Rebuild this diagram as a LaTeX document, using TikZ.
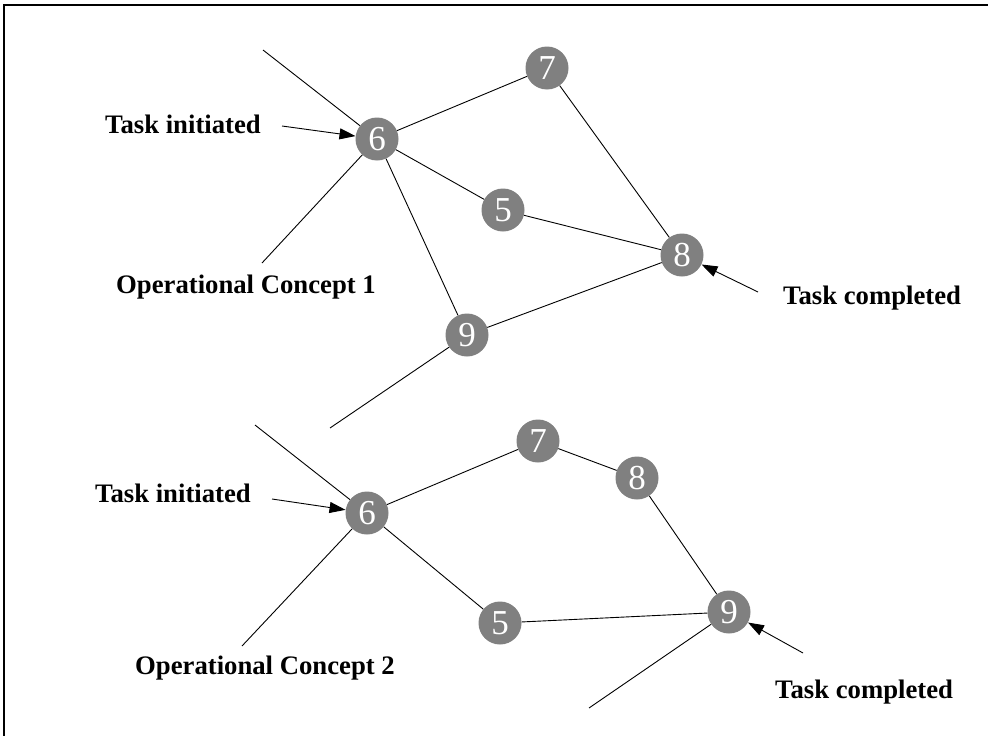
\documentclass[tikz,border=0pt]{standalone}
\usepackage{fontspec}
\setmainfont{Liberation Serif}
\usetikzlibrary{arrows.meta}
\tikzset{
  vtx/.style={circle, fill={rgb,255:red,128;green,128;blue,128}, minimum size=43pt, inner sep=0pt,
    text=white, font=\fontsize{35}{35}\selectfont},
  lbl/.style={anchor=base west, inner sep=0pt, font=\fontsize{26.7}{30}\selectfont\bfseries},
  ln/.style={line width=0.9pt, black},
  arr/.style={ln, -{Triangle[length=16pt, width=11pt]}},
}
\begin{document}
\begin{tikzpicture}[x=1pt, y=-1pt]
\useasboundingbox (0,0) rectangle (988,736);
\fill[white] (0,0) rectangle (988,736);
\begin{scope}
\clip (0,0) rectangle (988,736);
\draw[line width=1.6pt] (4,5) rectangle (1000,760);
\end{scope}

% ---- Operational Concept 1 ----
\node[vtx] (t6) at (377,139) {6};
\node[vtx] (t7) at (547,68) {7};
\node[vtx] (t5) at (503,210) {5};
\node[vtx] (t8) at (682,255) {8};
\node[vtx] (t9) at (467,335) {9};
\coordinate (ta1) at (263,50);
\coordinate (ta2) at (262,263);
\coordinate (ta3) at (330,428);
\coordinate (ti1) at (282,126);
\coordinate (tc1) at (758,292);

\node[lbl] (lti1) at (105,133) {Task initiated};
\node[lbl] (loc1) at (116,293) {Operational Concept 1};
\node[lbl] (ltc1) at (783,304) {Task completed};

\draw[ln] (ta1) -- (t6);
\draw[ln] (ta2) -- (t6);
\draw[ln] (t6) -- (t7);
\draw[ln] (t6) -- (t5);
\draw[ln] (t6) -- (t9);
\draw[ln] (t7) -- (t8);
\draw[ln] (t5) -- (t8);
\draw[ln] (t9) -- (t8);
\draw[ln] (t9) -- (ta3);
\draw[arr] (ti1) -- (t6);
\draw[arr] (tc1) -- (t8);

% ---- Operational Concept 2 ----
\node[vtx] (b6) at (367,513) {6};
\node[vtx] (b7) at (538,441) {7};
\node[vtx] (b8) at (637,478) {8};
\node[vtx] (b5) at (500,623) {5};
\node[vtx] (b9) at (729,612) {9};
\coordinate (ba1) at (255,425);
\coordinate (ba2) at (242,646);
\coordinate (ba3) at (589,708);
\coordinate (bi1) at (272,499);
\coordinate (bc1) at (803,653);

\node[lbl] (lti2) at (95,502) {Task initiated};
\node[lbl] (loc2) at (135,674) {Operational Concept 2};
\node[lbl] (ltc2) at (775,698) {Task completed};

\draw[ln] (ba1) -- (b6);
\draw[ln] (ba2) -- (b6);
\draw[ln] (b6) -- (b7);
\draw[ln] (b7) -- (b8);
\draw[ln] (b8) -- (b9);
\draw[ln] (b6) -- (b5);
\draw[ln] (b5) -- (b9);
\draw[ln] (b9) -- (ba3);
\draw[arr] (bi1) -- (b6);
\draw[arr] (bc1) -- (b9);
\end{tikzpicture}
\end{document}
